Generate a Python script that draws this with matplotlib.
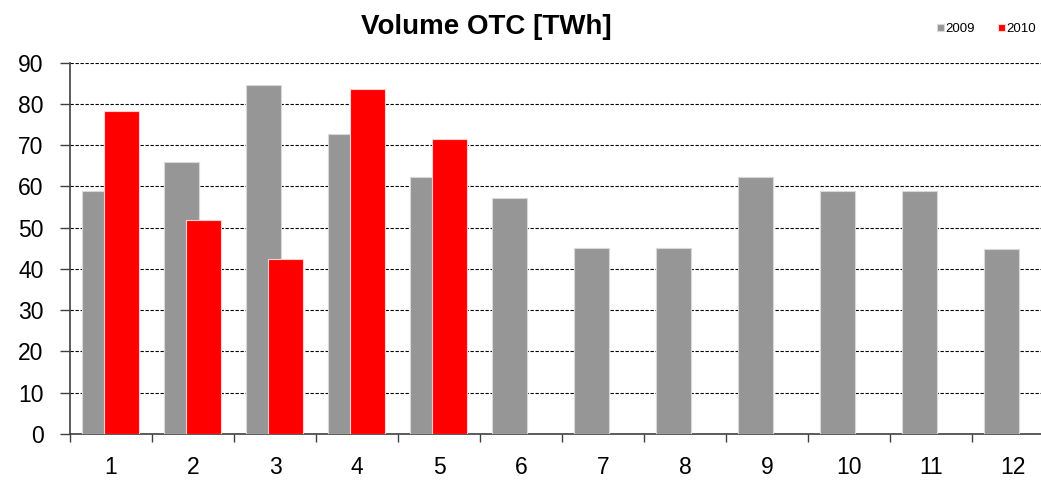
import numpy as np
import matplotlib.pyplot as plt

# data
months = [1, 2, 3, 4, 5, 6, 7, 8, 9, 10, 11, 12]
vol_2009 = [59.0, 65.9, 84.6, 72.8, 62.3, 57.2, 45.1, 45.1, 62.2, 59.0, 59.0, 44.8]
vol_2010 = [78.3, 51.9, 42.3, 83.6, 71.6]
yticks = [0, 10, 20, 30, 40, 50, 60, 70, 80, 90]

plt.rcParams['font.family'] = ['Liberation Sans', 'DejaVu Sans']

fig = plt.figure(figsize=(10.41, 4.84), dpi=100)
ax = fig.add_axes([70 / 1041, 50 / 484, 984 / 1041, 371.3 / 484])

x = np.arange(len(months))
w = 0.43
ax.bar(x - 0.14, vol_2009, w, color='#969696', edgecolor='#d8d8d8', linewidth=0.8,
       label='2009', zorder=3)
ax.bar(x[:len(vol_2010)] + 0.13, vol_2010, w, color='#ff0000', edgecolor='#ffd0d0',
       linewidth=0.8, label='2010', zorder=4)

ax.set_xlim(-0.5, len(months) - 0.5)
ax.set_ylim(0, 90)
ax.set_yticks(yticks)
ax.set_yticklabels([str(v) for v in yticks], fontsize=16.5)
ax.yaxis.grid(True, linestyle=(0, (3, 1.5)), color='black', linewidth=0.8, zorder=0)

# ticks on category borders, labels in the middle
ax.set_xticks(np.arange(len(months) + 1) - 0.5)
ax.set_xticklabels([])
ax.set_xticks(x, minor=True)
ax.set_xticklabels([str(m) for m in months], minor=True, fontsize=16.5)
ax.tick_params(axis='x', which='major', length=6, width=1, color='#404040')
ax.tick_params(axis='x', which='minor', length=0, pad=16)
ax.tick_params(axis='y', length=7, width=1, color='#404040', pad=12)

for s in ['top', 'right']:
    ax.spines[s].set_visible(False)
for s in ['left', 'bottom']:
    ax.spines[s].set_color('#404040')
    ax.spines[s].set_linewidth(1.2)

fig.text(486 / 1041, 1 - 27 / 484, 'Volume OTC [TWh]', fontsize=20, fontweight='bold',
         ha='center', va='center')
fig.legend(loc='center right', bbox_to_anchor=(1.0, 1 - 29 / 484), ncol=2, frameon=False,
           fontsize=9.5, handlelength=0.5, handleheight=0.5, handletextpad=0.1,
           columnspacing=1.8, borderaxespad=0.0)

fig.savefig('out.png', dpi=100)
